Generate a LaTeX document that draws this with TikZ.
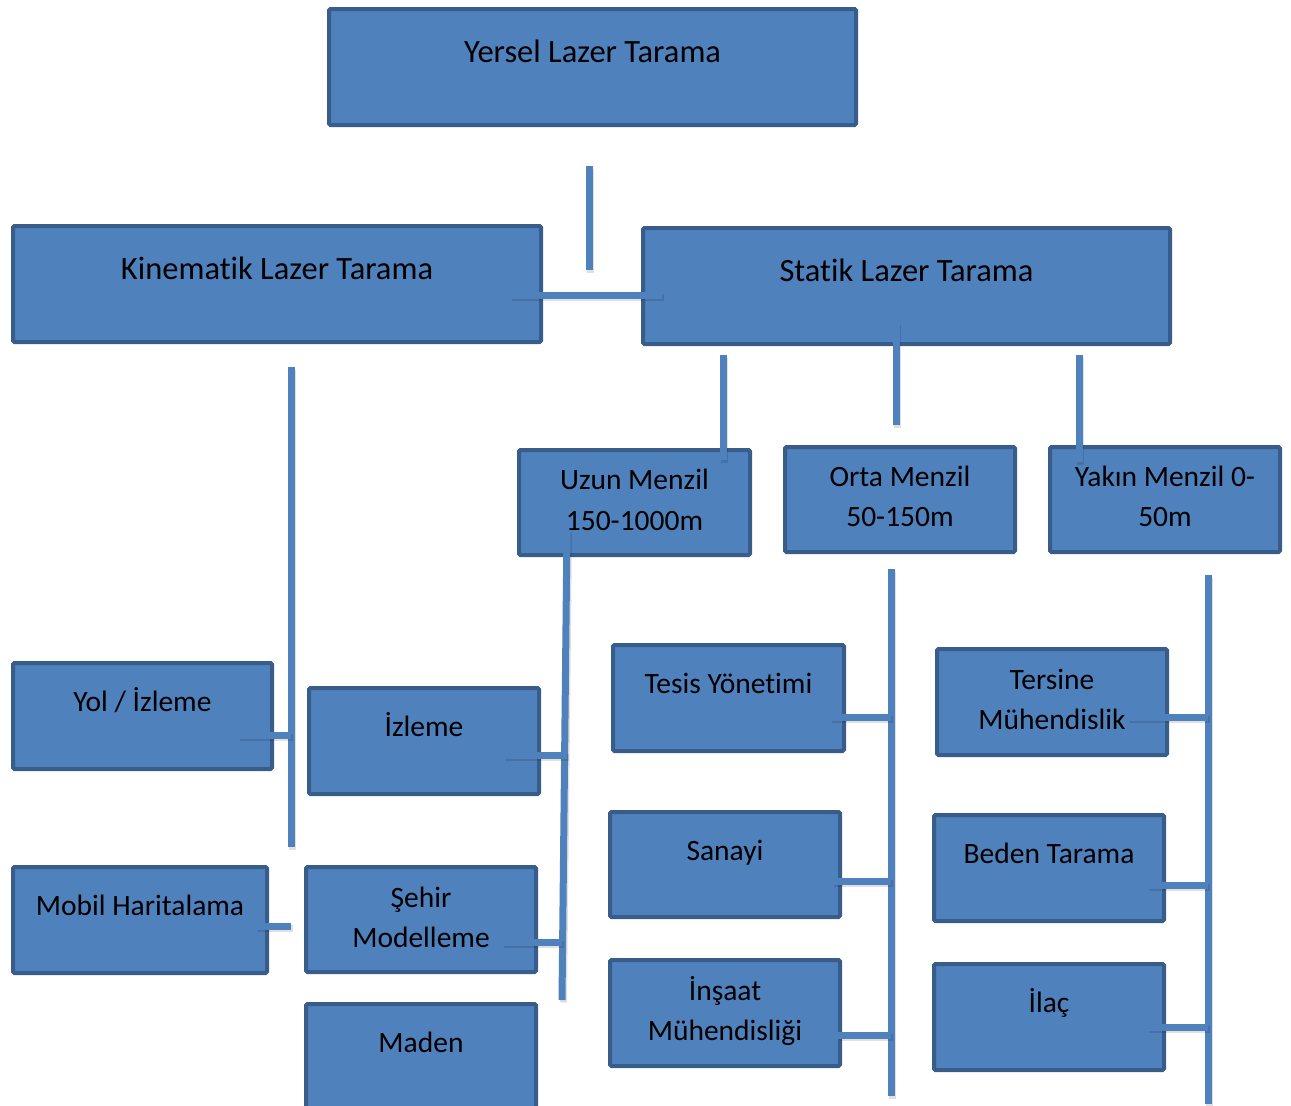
\documentclass[tikz,border=0pt]{standalone}
\usepackage{fontspec}
\setmainfont{Carlito}[Ligatures=NoCommon]
\usetikzlibrary{positioning}

\definecolor{boxfill}{HTML}{4F81BD}
\definecolor{boxline}{HTML}{385D8A}
\definecolor{linkblue}{HTML}{4F81BD}

\tikzset{
  box/.style={draw=boxline, fill=boxfill, line width=4pt, rounded corners=1.5pt,
    inner sep=0pt, outer sep=2pt, anchor=north west},
  txt/.style={anchor=base, inner sep=0pt, outer sep=0pt, text=black,
    font=\fontsize{29.5}{36}\selectfont},
  bigtxt/.style={txt, font=\fontsize{32.5}{39}\selectfont},
  link/.style={draw=linkblue, line width=7pt,
    preaction={draw=black, opacity=0.12, line width=7pt,
      transform canvas={shift={(1.5pt,-2.5pt)}}}}
}

\begin{document}
\begin{tikzpicture}[x=1pt, y=-1pt]
            \clip (0,0) rectangle (1291,1106);

            % Boxes
            \node[box, minimum width=527pt, minimum height=116pt] (yersel) at (327,7) {};
            \node[box, minimum width=528pt, minimum height=116pt] (kin) at (11,224) {};
            \node[box, minimum width=527pt, minimum height=116pt] (statik) at (641,226) {};
            \node[box, minimum width=231pt, minimum height=105pt] (uzun) at (517,448) {};
            \node[box, minimum width=230pt, minimum height=105pt] (orta) at (783,445) {};
            \node[box, minimum width=230pt, minimum height=105pt] (yakin) at (1048,445) {};
            \node[box, minimum width=259pt, minimum height=106pt] (yol) at (11,661) {};
            \node[box, minimum width=230pt, minimum height=106pt] (izleme) at (307,686) {};
            \node[box, minimum width=254pt, minimum height=106pt] (mobil) at (11,865) {};
            \node[box, minimum width=230pt, minimum height=105pt] (sehir) at (304,865) {};
            \node[box, minimum width=230pt, minimum height=106pt] (maden) at (304,1002) {};
            \node[box, minimum width=231pt, minimum height=106pt] (tesis) at (611,643) {};
            \node[box, minimum width=230pt, minimum height=105pt] (sanayi) at (608,810) {};
            \node[box, minimum width=230pt, minimum height=106pt] (insaat) at (608,958) {};
            \node[box, minimum width=230pt, minimum height=106pt] (tersine) at (935,647) {};
            \node[box, minimum width=230pt, minimum height=106pt] (beden) at (932,813) {};
            \node[box, minimum width=230pt, minimum height=106pt] (ilac) at (932,962) {};

            % Line ends
            \foreach \n/\x/\y in {top-a/589/166, top-b/589/270, mid-a/510/295, mid-b/662/295,
                st-a/723/355, st-b/723/460, st-c/896/322, st-d/896/425, st-e/1079/355, st-f/1079/462,
                kin-a/291/367, kin-b/291/847, yol-s/238/735, mob-s/255/926,
                uz-a/567/530, uz-b/562/1000, izl-s/503/755, seh-s/502/942,
                or-a/891/569, or-b/891/1096, tes-s/830/717, san-s/832/881, ins-s/838/1035,
                ya-a/1208/575, ya-b/1208/1104, ter-s/1128/717, bed-s/1147/885, ila-s/1147/1027}
                \coordinate (\n) at (\x,\y);

            % Lines
            \draw[link] (top-a) -- (top-b);
            \draw[link] (mid-a) -- (mid-b);
            \draw[link] (st-a) -- (st-b);
            \draw[link] (st-c) -- (st-d);
            \draw[link] (st-e) -- (st-f);

            \draw[link] (kin-a) -- (kin-b);
            \draw[link] (yol-s) -- (yol-s -| kin-a);
            \draw[link] (mob-s) -- (mob-s -| kin-a);

            \draw[link] (uz-a) -- (uz-b);
            \draw[link] (izl-s) -- (izl-s -| uz-a);
            \draw[link] (seh-s) -- (seh-s -| uz-b);

            \draw[link] (or-a) -- (or-b);
            \draw[link] (tes-s) -- (tes-s -| or-a);
            \draw[link] (san-s) -- (san-s -| or-a);
            \draw[link] (ins-s) -- (ins-s -| or-a);

            \draw[link] (ya-a) -- (ya-b);
            \draw[link] (ter-s) -- (ter-s -| ya-a);
            \draw[link] (bed-s) -- (bed-s -| ya-a);
            \draw[link] (ila-s) -- (ila-s -| ya-a);

            % Labels
            \node[bigtxt, below=55pt of yersel.north, anchor=base] (yersel-t) {Yersel Lazer Tarama};
            \node[bigtxt, below=55pt of kin.north, anchor=base] (kin-t) {Kinematik Lazer Tarama};
            \node[bigtxt, below=55pt of statik.north, anchor=base] (statik-t) {Statik Lazer Tarama};
            \node[txt, below=41pt of uzun.north, anchor=base] (uzun-t) {Uzun Menzil};
            \node[txt, below=82pt of uzun.north, anchor=base] (uzun-u) {150-1000m};
            \node[txt, below=41pt of orta.north, anchor=base] (orta-t) {Orta Menzil};
            \node[txt, below=81pt of orta.north, anchor=base] (orta-u) {50-150m};
            \node[txt, below=41pt of yakin.north, anchor=base] (yakin-t) {Yakın Menzil 0-};
            \node[txt, below=81pt of yakin.north, anchor=base] (yakin-u) {50m};
            \node[txt, below=50pt of yol.north, anchor=base] (yol-t) {Yol / İzleme};
            \node[txt, below=50pt of izleme.north, anchor=base] (izleme-t) {İzleme};
            \node[txt, below=50pt of mobil.north, anchor=base] (mobil-t) {Mobil Haritalama};
            \node[txt, below=42pt of sehir.north, anchor=base] (sehir-t) {Şehir};
            \node[txt, below=82pt of sehir.north, anchor=base] (sehir-u) {Modelleme};
            \node[txt, below=50pt of maden.north, anchor=base] (maden-t) {Maden};
            \node[txt, below=50pt of tesis.north, anchor=base] (tesis-t) {Tesis Yönetimi};
            \node[txt, below=50pt of sanayi.north, anchor=base] (sanayi-t) {Sanayi};
            \node[txt, below=42pt of insaat.north, anchor=base] (insaat-t) {İnşaat};
            \node[txt, below=82pt of insaat.north, anchor=base] (insaat-u) {Mühendisliği};
            \node[txt, below=42pt of tersine.north, anchor=base] (tersine-t) {Tersine};
            \node[txt, below=82pt of tersine.north, anchor=base] (tersine-u) {Mühendislik};
            \node[txt, below=50pt of beden.north, anchor=base] (beden-t) {Beden Tarama};
            \node[txt, below=50pt of ilac.north, anchor=base] (ilac-t) {İlaç};
\end{tikzpicture}
\end{document}
